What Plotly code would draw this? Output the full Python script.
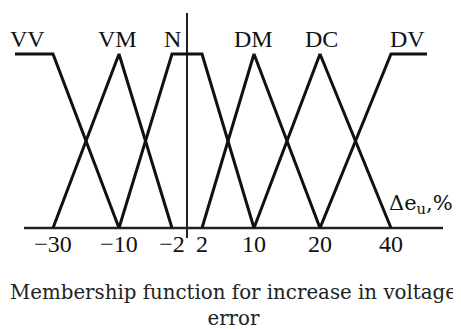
import numpy as np
import plotly.graph_objects as go

# ---- data ----
tick_values = [-30, -10, -2, 2, 10, 20, 40]
tick_labels = ["\u221230", "\u221210", "\u22122", "2", "10", "20", "40"]
mf_names = ["VV", "VM", "N", "DM", "DC", "DV"]
vv_e = [-30, -10]; vv_mu = [1, 0]
vm_e = [-30, -10, -2]; vm_mu = [0, 1, 0]
n_e = [-10, -2, 2, 10]; n_mu = [0, 1, 1, 0]
dm_e = [2, 10, 20]; dm_mu = [0, 1, 0]
dc_e = [10, 20, 40]; dc_mu = [0, 1, 0]
dv_e = [20, 40]; dv_mu = [0, 1]

# ---- schematic layout (non-uniform axis drawing, in page pixels) ----
tick_pos = [53, 119, 172, 202, 254, 320, 391]
left_edge, right_edge = 15, 427
base_lo, base_hi = 24, 443
label_pos = [27, 117, 172, 253, 321, 407]

def P(v):
    return np.interp(v, tick_values, tick_pos)

OFF = 8                      # default page margin around the plot div
PAGE_W, PAGE_H = 461, 329
W, H = PAGE_W - OFF, PAGE_H - OFF
y_top_px, y_zero_px = 54, 228
unit = y_zero_px - y_top_px

def vy(py):
    return 1 - (py - y_top_px) / unit

ymax = vy(OFF)
ymin = vy(PAGE_H)

fig = go.Figure()
line = dict(color="#111111", width=3)
curves = [
    ([left_edge] + list(P(vv_e)), [1] + vv_mu),
    (list(P(vm_e)), vm_mu),
    (list(P(n_e)), n_mu),
    (list(P(dm_e)), dm_mu),
    (list(P(dc_e)), dc_mu),
    (list(P(dv_e)) + [right_edge], dv_mu + [1]),
]
for xs, ys in curves:
    fig.add_trace(go.Scatter(x=xs, y=ys, mode="lines", line=line,
                             hoverinfo="skip", showlegend=False))

# baseline and vertical axis
fig.add_shape(type="line", x0=base_lo, x1=base_hi, y0=0, y1=0,
              line=dict(color="#222222", width=2.5), layer="below")
x0p = float(P(0))
fig.add_shape(type="line", x0=x0p, x1=x0p, y0=vy(13), y1=vy(238),
              line=dict(color="#222222", width=2), layer="below")

serif = "Liberation Serif, Times New Roman, serif"
wide_serif = "DejaVu Serif, serif"
for name, xp in zip(mf_names, label_pos):
    fig.add_annotation(x=xp, y=vy(39), text=name, showarrow=False,
                       xanchor="center", yanchor="middle",
                       font=dict(family=serif, size=24, color="#111111"))

fig.add_annotation(x=387, y=vy(204),
                   text="\u0394e<sub>u</sub>,%", showarrow=False,
                   xanchor="left", yanchor="middle",
                   font=dict(family=wide_serif, size=21, color="#111111"))

fig.add_annotation(x=(233 - OFF) / W, y=(H - 297) / H, xref="paper", yref="paper",
                   text="Membership function for increase in voltage<br>error",
                   showarrow=False, xanchor="center", yanchor="middle",
                   font=dict(family=wide_serif, size=19.8, color="#222222"))

fig.update_layout(
    width=W, height=H, margin=dict(l=0, r=0, t=0, b=0),
    paper_bgcolor="white", plot_bgcolor="white",
    xaxis=dict(range=[OFF, PAGE_W], showgrid=False, zeroline=False, showline=False,
               tickvals=tick_pos, ticktext=tick_labels, ticks="",
               anchor="free", position=(H - (227 - OFF)) / H,
               tickfont=dict(family=serif, size=24, color="#111111")),
    yaxis=dict(range=[ymin, ymax], visible=False),
)
fig.write_html("out.html")
